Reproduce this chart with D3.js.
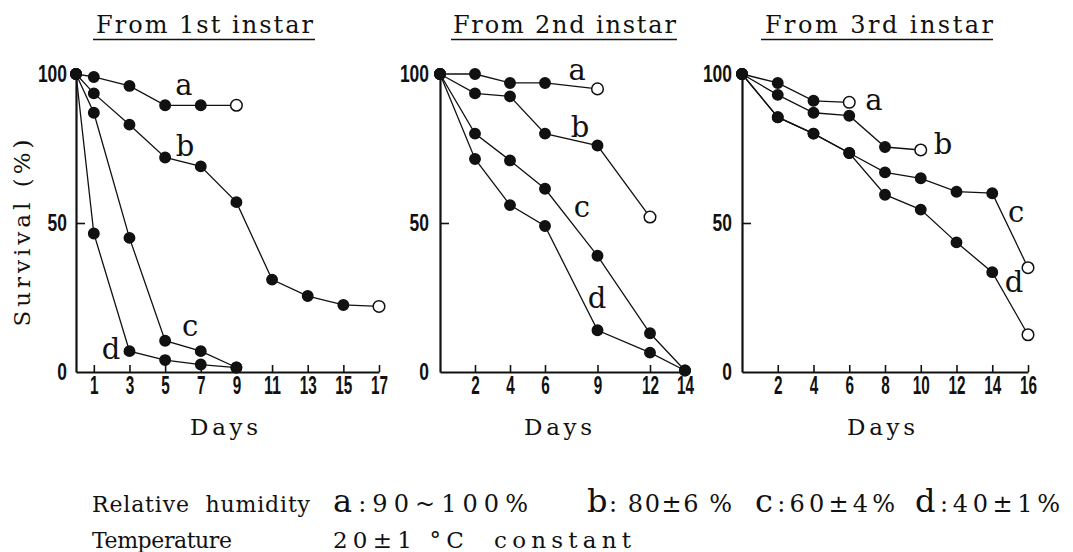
<!DOCTYPE html>
<html>
<head>
<meta charset="utf-8">
<script src="https://cdn.jsdelivr.net/npm/d3@7"></script>
<style>
  body { margin: 0; background: #fff; }
  svg { display: block; }
  .serif { font-family: "DejaVu Serif", "Liberation Serif", serif; fill: #111; }
  .tick text { font-family: "Liberation Sans", Arial, sans-serif; font-weight: bold; fill: #111; }
</style>
</head>
<body>
<script>
// survival data, pairs of [day, survival %]
var first_a = [[0,100],[1,99],[3,96],[5,89.5],[7,89.5],[9,89.5]];
var first_b = [[0,100],[1,93.5],[3,83],[5,72],[7,69],[9,57],[11,31],[13,25.5],[15,22.5],[17,22]];
var first_c = [[0,100],[1,87],[3,45],[5,10.5],[7,7],[9,1.5]];
var first_d = [[0,100],[1,46.5],[3,7],[5,4],[7,2.5],[9,1.5]];

var second_a = [[0,100],[2,100],[4,97],[6,97],[9,95]];
var second_b = [[0,100],[2,93.5],[4,92.5],[6,80],[9,76],[12,52]];
var second_c = [[0,100],[2,80],[4,71],[6,61.5],[9,39],[12,13],[14,0.5]];
var second_d = [[0,100],[2,71.5],[4,56],[6,49],[9,14],[12,6.5],[14,0.5]];

var third_a = [[0,100],[2,97],[4,91],[6,90.5]];
var third_b = [[0,100],[2,93],[4,87],[6,86],[8,75.5],[10,74.5]];
var third_c = [[0,100],[2,85.5],[4,80],[6,73.5],[8,67],[10,65],[12,60.5],[14,60],[16,35]];
var third_d = [[0,100],[2,85.5],[4,80],[6,73.5],[8,59.5],[10,54.5],[12,43.5],[14,33.5],[16,12.5]];

// last point drawn as open circle?
var open1 = [true, true, false, false];
var open2 = [true, true, false, false];
var open3 = [true, true, true, true];

// where the a/b/c/d letters sit, in [day, %]
var letters1 = [[6.06,93],[6.12,72.5],[6.4,12.1],[1.96,4.4]];
var letters2 = [[7.83,98],[8.0,78.9],[8.11,52],[8.97,21.5]];
var letters3 = [[7.38,87.9],[11.24,73.2],[15.33,50.3],[15.22,26.8]];

var ticks1 = [1,3,5,7,9,11,13,15,17];
var ticks2 = [2,4,6,9,12,14];
var ticks3 = [2,4,6,8,10,12,14,16];
var yTicks = [0,50,100];

var titles = ["From 1st instar", "From 2nd instar", "From 3rd instar"];
var seriesNames = ["a","b","c","d"];
var rhValues = [":90~100%", ": 80±6 %", ":60±4%", ":40±1%"];

var svg = d3.select("body").append("svg")
    .attr("width", 1073)
    .attr("height", 552);

svg.append("rect").attr("width", 1073).attr("height", 552).attr("fill", "#fff");

var panels = [
  {series: [first_a, first_b, first_c, first_d], open: open1, letters: letters1, ticks: ticks1,
   maxDay: 17, x0: 76, x1: 379, pad: 9, title: titles[0], tx: 204.5, tw: 217, ux: [93, 315], dx: 224},
  {series: [second_a, second_b, second_c, second_d], open: open2, letters: letters2, ticks: ticks2,
   maxDay: 14, x0: 440, x1: 685, pad: 11, title: titles[1], tx: 564.4, tw: 223, ux: [451, 677], dx: 558},
  {series: [third_a, third_b, third_c, third_d], open: open3, letters: letters3, ticks: ticks3,
   maxDay: 16, x0: 742, x1: 1028, pad: 10, title: titles[2], tx: 879, tw: 228, ux: [761, 993], dx: 881}
];

var y = d3.scaleLinear().domain([0, 100]).range([372, 74]);

panels.forEach(function(p) {
  var x = d3.scaleLinear().domain([0, p.maxDay]).range([p.x0, p.x1]);

  var line = d3.line()
      .x(function(d) { return x(d[0]); })
      .y(function(d) { return y(d[1]); });

  // title with underline
  svg.append("text")
      .attr("class", "serif")
      .attr("x", p.tx)
      .attr("y", 33)
      .attr("text-anchor", "middle")
      .attr("textLength", p.tw)
      .attr("lengthAdjust", "spacing")
      .style("font-size", "24px")
      .text(p.title);
  svg.append("line")
      .attr("x1", p.ux[0]).attr("x2", p.ux[1])
      .attr("y1", 39.5).attr("y2", 39.5)
      .attr("stroke", "#111").attr("stroke-width", 1.6);

  // axes
  var gx = svg.append("g")
      .attr("transform", "translate(0," + y(0) + ")")
      .call(d3.axisBottom(x).tickValues(p.ticks).tickSize(-7).tickSizeOuter(0).tickPadding(4));
  var gy = svg.append("g")
      .attr("transform", "translate(" + x(0) + ",0)")
      .call(d3.axisLeft(y).tickValues(yTicks).tickSize(-9).tickSizeOuter(0).tickPadding(p.pad));

  [gx, gy].forEach(function(g) {
    g.select(".domain").attr("stroke", "#111").attr("stroke-width", 2.2);
    g.selectAll(".tick line").attr("stroke", "#111").attr("stroke-width", 1.6);
  });
  gy.selectAll(".tick").filter(function(d) { return d !== 50; }).select("line").remove();
  gx.selectAll(".tick text")
      .style("font-size", "25px")
      .attr("textLength", function(d) { return String(d).length * 8.5; })
      .attr("lengthAdjust", "spacingAndGlyphs");
  gy.selectAll(".tick text")
      .style("font-size", "23px")
      .attr("textLength", function(d) { return String(d).length * 9.7; })
      .attr("lengthAdjust", "spacingAndGlyphs");

  // series lines
  p.series.forEach(function(s) {
    svg.append("path")
        .datum(s)
        .attr("fill", "none")
        .attr("stroke", "#111")
        .attr("stroke-width", 1.3)
        .attr("d", line);
  });

  // points
  p.series.forEach(function(s, i) {
    svg.selectAll(null)
        .data(s)
        .enter().append("circle")
        .attr("cx", function(d) { return x(d[0]); })
        .attr("cy", function(d) { return y(d[1]); })
        .attr("r", function(d, j) { return (p.open[i] && j === s.length - 1) ? 5.8 : 5.2; })
        .attr("fill", function(d, j) { return (p.open[i] && j === s.length - 1) ? "#fff" : "#111"; })
        .attr("stroke", "#111")
        .attr("stroke-width", 1.5);
  });

  // series letters
  svg.selectAll(null)
      .data(p.letters)
      .enter().append("text")
      .attr("class", "serif")
      .attr("x", function(d) { return x(d[0]); })
      .attr("y", function(d) { return y(d[1]); })
      .attr("text-anchor", "middle")
      .style("font-size", "29px")
      .text(function(d, i) { return seriesNames[i]; });

  // x label
  svg.append("text")
      .attr("class", "serif")
      .attr("x", p.dx)
      .attr("y", 435)
      .attr("text-anchor", "middle")
      .attr("textLength", 68)
      .attr("lengthAdjust", "spacing")
      .style("font-size", "23px")
      .text("Days");
});

// y label
svg.append("text")
    .attr("class", "serif")
    .attr("transform", "translate(30,233) rotate(-90)")
    .attr("text-anchor", "middle")
    .attr("textLength", 187)
    .attr("lengthAdjust", "spacing")
    .style("font-size", "23px")
    .text("Survival (%)");

// conditions
svg.append("text")
    .attr("class", "serif")
    .attr("x", 92).attr("y", 512)
    .attr("textLength", 218)
    .attr("lengthAdjust", "spacing")
    .style("font-size", "22px")
    .style("white-space", "pre")
    .text("Relative  humidity");

var rhX = [333, 587, 755, 915];
var rhW = [195, 145, 140, 145];
seriesNames.forEach(function(n, i) {
  var t = svg.append("text")
      .attr("class", "serif")
      .attr("x", rhX[i]).attr("y", 512)
      .attr("textLength", rhW[i])
      .attr("lengthAdjust", "spacing");
  t.append("tspan").style("font-size", "32px").text(n);
  t.append("tspan").style("font-size", "24px").text(rhValues[i]);
});

svg.append("text")
    .attr("class", "serif")
    .attr("x", 92).attr("y", 548)
    .attr("textLength", 140)
    .attr("lengthAdjust", "spacing")
    .style("font-size", "22px")
    .text("Temperature");

svg.append("text")
    .attr("class", "serif")
    .attr("x", 333).attr("y", 548)
    .attr("textLength", 298)
    .attr("lengthAdjust", "spacing")
    .style("font-size", "23px")
    .style("white-space", "pre")
    .text("20±1 °C  constant");
</script>
</body>
</html>
